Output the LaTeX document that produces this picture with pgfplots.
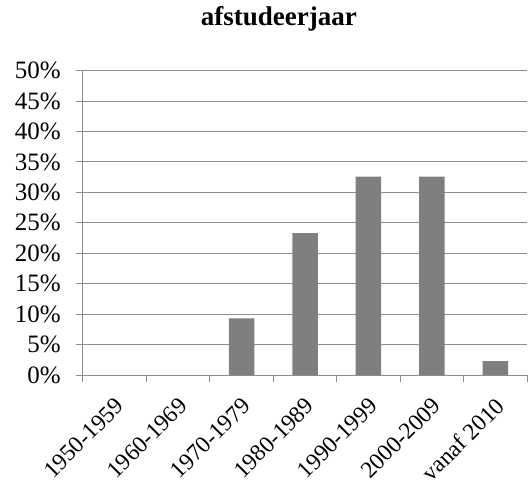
\documentclass[border=0pt]{standalone}
\usepackage{fontspec}
\setmainfont{Liberation Serif}
\usepackage{pgfplots}
\usepackage{pgfplotstable}
\pgfplotsset{compat=1.18}

\definecolor{gridgray}{HTML}{8E8E8E}
\definecolor{barfill}{HTML}{7F7F7F}

% share of respondents per graduation period (percent)
\pgfplotstableread{
x share
0 0
1 0
2 9.3
3 23.3
4 32.6
5 32.6
6 2.3
}\datatable

\begin{document}
\begin{tikzpicture}
\begin{axis}[
    at={(0,0)}, anchor=south west,
    scale only axis,
    width=444pt, height=304.3pt,
    xmin=-0.5, xmax=6.5,
    ymin=0, ymax=50,
    axis lines=left,
    axis line style={draw=gridgray, line width=1pt, -},
    tick style={draw=gridgray, line width=1pt},
    tick align=outside,
    major tick length=7pt,
    ymajorgrids,
    grid style={draw=gridgray, line width=1pt},
    ytick={0,5,...,50},
    yticklabels={0\%,5\%,10\%,15\%,20\%,25\%,30\%,35\%,40\%,45\%,50\%},
    yticklabel style={anchor=east, inner sep=0pt, xshift=-15pt,
        font=\fontsize{25}{28}\selectfont},
    xtick={-0.5,0.5,...,6.5},
    xticklabels={},
    extra x ticks={0,1,2,3,4,5,6},
    extra x tick labels={1950-1959,1960-1969,1970-1979,1980-1989,1990-1999,2000-2009,vanaf 2010},
    extra x tick style={major tick length=0pt,
        xticklabel style={yshift=-27pt, xshift=5pt, rotate=45, anchor=east, inner sep=0pt,
            font=\fontsize{23.5}{26}\selectfont}},
    title={afstudeerjaar},
    title style={at={(0.441,1)}, anchor=base, yshift=38.7pt,
        font=\fontsize{27}{30}\selectfont\bfseries},
]
\addplot[ybar, bar width=25.5pt, fill=barfill, draw=none] table[x=x, y=share] {\datatable};
\end{axis}
\pgfresetboundingbox
\path (-83pt,-112pt) rectangle (446pt,375pt);
\end{tikzpicture}
\end{document}
